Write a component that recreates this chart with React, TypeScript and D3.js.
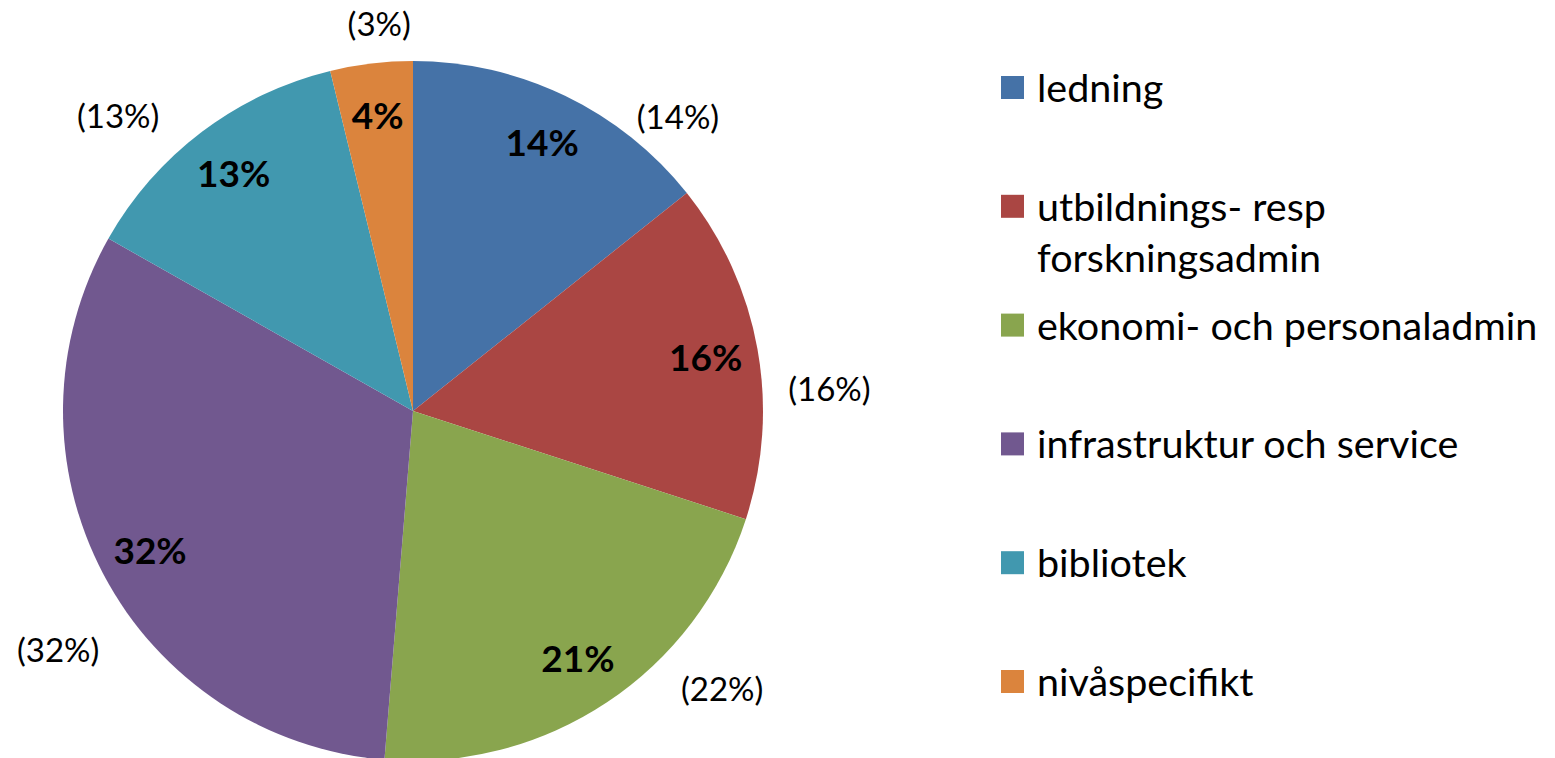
import React, { useRef, useEffect } from "react";
import * as d3 from "d3";

const categories = [
    "ledning",
    "utbildnings- resp forskningsadmin",
    "ekonomi- och personaladmin",
    "infrastruktur och service",
    "bibliotek",
    "nivåspecifikt",
];
const shares = [14.3, 15.7, 21.3, 31.9, 13.0, 3.8];
const innerLabels = ["14%", "16%", "21%", "32%", "13%", "4%"];
const outerLabels = ["(14%)", "(16%)", "(22%)", "(32%)", "(13%)", "(3%)"];
const colors = ["#4572A7", "#AA4643", "#89A54E", "#71588F", "#4198AF", "#DB843D"];

// where the bracketed labels sit: angle (deg, clockwise from top) and distance from centre
const outerPlacement = [
    { angle: 42, r: 396 },
    { angle: 87, r: 417 },
    { angle: 132, r: 416 },
    { angle: 236, r: 428 },
    { angle: 315, r: 417 },
    { angle: 355, r: 388 },
];

const legendLines = [
    ["ledning"],
    ["utbildnings- resp", "forskningsadmin"],
    ["ekonomi- och personaladmin"],
    ["infrastruktur och service"],
    ["bibliotek"],
    ["nivåspecifikt"],
];

const FONT = "Lato, 'Open Sans', sans-serif";

const App: React.FC = () => {
    const svgRef = useRef<SVGSVGElement | null>(null);

    useEffect(() => {
        if (!svgRef.current) return;
        const svg = d3.select(svgRef.current);
        svg.selectAll("*").remove();

        const cx = 413;
        const cy = 411;
        const radius = 350;

        const data = categories.map((name, i) => ({ name, value: shares[i], i }));
        type D = (typeof data)[number];

        const pie = d3.pie<D>().value((d) => d.value).sort(null);
        const arc = d3.arc<d3.PieArcDatum<D>>().innerRadius(0).outerRadius(radius);
        const labelArc = d3
            .arc<d3.PieArcDatum<D>>()
            .innerRadius(radius * 0.85)
            .outerRadius(radius * 0.85);

        const g = svg.append("g").attr("transform", `translate(${cx},${cy})`);
        const arcs = pie(data);

        g.selectAll("path")
            .data(arcs)
            .enter()
            .append("path")
            .attr("d", arc)
            .attr("fill", (d) => colors[d.data.i]);

        g.selectAll("text.inner")
            .data(arcs)
            .enter()
            .append("text")
            .attr("class", "inner")
            .attr("transform", (d) => `translate(${labelArc.centroid(d)})`)
            .attr("dy", "0.36em")
            .attr("text-anchor", "middle")
            .style("font-family", FONT)
            .style("font-weight", "bold")
            .style("font-size", "37px")
            .text((d) => innerLabels[d.data.i]);

        g.selectAll("text.outer")
            .data(outerPlacement)
            .enter()
            .append("text")
            .attr("class", "outer")
            .attr("transform", (p) => `translate(${d3.pointRadial((p.angle * Math.PI) / 180, p.r)})`)
            .attr("dy", "0.36em")
            .attr("text-anchor", "middle")
            .style("font-family", FONT)
            .style("font-size", "33px")
            .text((_, i) => outerLabels[i]);

        // legend
        const legendY = d3
            .scalePoint<number>()
            .domain(d3.range(categories.length))
            .range([88, 682]);

        const legend = svg
            .selectAll("g.legend")
            .data(categories)
            .enter()
            .append("g")
            .attr("class", "legend")
            .attr("transform", (_, i) => `translate(1001,${legendY(i)})`);

        legend
            .append("rect")
            .attr("x", 0)
            .attr("y", -12)
            .attr("width", 23)
            .attr("height", 23)
            .attr("fill", (_, i) => colors[i]);

        legend
            .append("text")
            .attr("x", 36)
            .attr("y", 14)
            .style("font-family", FONT)
            .style("font-size", "39.5px")
            .selectAll("tspan")
            .data((_, i) => legendLines[i])
            .enter()
            .append("tspan")
            .attr("x", 36)
            .attr("dy", (_, j) => (j === 0 ? 0 : 51))
            .text((t) => t);
    }, []);

    return (
        <div>
            <style>{`body { margin: 0; }`}</style>
            <svg ref={svgRef} width={1555} height={758} style={{ display: "block" }} />
        </div>
    );
};

export default App;
